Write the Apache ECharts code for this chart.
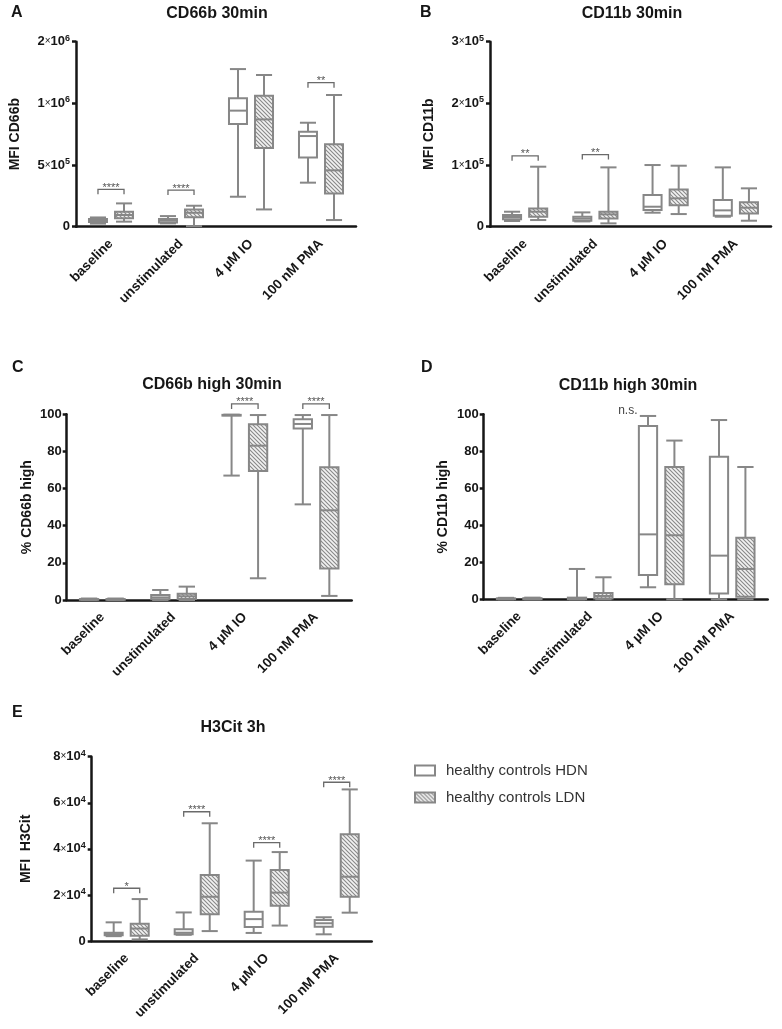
<!DOCTYPE html>
<html><head><meta charset="utf-8">
<script src="https://cdn.jsdelivr.net/npm/echarts@6/dist/echarts.min.js"></script>
<style>html,body{margin:0;padding:0;background:#fff}#c{width:782px;height:1029px}</style>
</head><body><div id="c"></div>
<script>
const categories = ['baseline', 'unstimulated', '4 µM IO', '100 nM PMA'];
const seriesNames = ['healthy controls HDN', 'healthy controls LDN'];
// each row: [min, Q1, median, Q3, max]
const cd66bHDN = [[25e3,38e3,50e3,62e3,75e3],[27e3,35e3,49e3,62e3,86e3],[243e3,832e3,941e3,1041e3,1278e3],[357e3,562e3,735e3,770e3,843e3]];
const cd66bLDN = [[41e3,68e3,95e3,122e3,189e3],[5e3,76e3,113e3,140e3,170e3],[140e3,638e3,870e3,1062e3,1230e3],[54e3,270e3,457e3,668e3,1068e3]];
const cd11bHDN = [[9.2e3,11.9e3,15.7e3,18.9e3,24.3e3],[8.6e3,9.7e3,13e3,16.2e3,23.2e3],[22.7e3,27e3,32.4e3,51.4e3,100e3],[16.2e3,17.8e3,26.5e3,43.2e3,96.2e3]];
const cd11bLDN = [[10.8e3,16.2e3,24.3e3,29.7e3,97.3e3],[5.4e3,13.5e3,20e3,24.3e3,96.2e3],[20.5e3,34.6e3,46e3,60.5e3,98.9e3],[9.7e3,21.6e3,30.8e3,39.5e3,62.2e3]];
const cd66bHighHDN = [[0,0.1,0.3,0.5,0.8],[0,0.4,1.4,2.7,5.4],[67,99.3,99.5,99.7,99.8],[51.5,92.3,94.8,97.3,99.6]];
const cd66bHighLDN = [[0,0.1,0.3,0.5,0.8],[0,0.5,2.0,3.4,7.2],[11.7,69.5,83.1,94.6,99.6],[2.2,16.9,48.3,71.5,99.6]];
const cd11bHighHDN = [[0,0.1,0.3,0.5,0.8],[0,0.1,0.4,0.9,16.4],[6.5,13.2,35.1,93.7,99.1],[0,3.2,23.6,77.1,96.9]];
const cd11bHighLDN = [[0,0.1,0.3,0.6,0.9],[0,0.5,1.8,3.4,11.9],[0,8.1,34.6,71.5,85.8],[0,1.4,16.4,33.3,71.5]];
const h3citHDN = [[2.1e3,2.5e3,3.0e3,3.6e3,8.1e3],[2.7e3,2.9e3,3.6e3,5.1e3,12.4e3],[3.5e3,6.1e3,9.5e3,12.7e3,34.9e3],[2.9e3,6.2e3,7.7e3,9.1e3,10.3e3]];
const h3citLDN = [[0.7e3,2.3e3,5.4e3,7.5e3,18.2e3],[4.3e3,11.6e3,19.2e3,28.6e3,51.1e3],[6.7e3,15.3e3,21.0e3,30.8e3,38.6e3],[12.3e3,19.2e3,27.9e3,46.3e3,65.8e3]];
// significance brackets: [category index, y value, label]
const sigA = [[0,303e3,'****'],[1,297e3,'****'],[3,1168e3,'**']];
const sigB = [[0,115e3,'**'],[1,117e3,'**']];
const sigC = [[2,105.6,'****'],[3,105.6,'****']];
const sigD = [];
const nsD = [[2,100,'n.s.']];
const sigE = [[0,22.9e3,'*'],[1,56.1e3,'****'],[2,42.7e3,'****'],[3,68.9e3,'****']];
// y tick labels
const yTicksA = ['0','5×10^5','1×10^6','2×10^6'];
const yTicksB = ['0','1×10^5','2×10^5','3×10^5'];
const yTicksC = ['0','20','40','60','80','100'];
const yTicksD = ['0','20','40','60','80','100'];
const yTicksE = ['0','2×10^4','4×10^4','6×10^4','8×10^4'];

const FONT = "'Liberation Sans', Arial, Helvetica, sans-serif";
const GRAY = '#878787';
const INK = '#161616';

function makeHatch() {
  const s = 4;
  const c = document.createElement('canvas'); c.width = s; c.height = s;
  const g = c.getContext('2d');
  g.fillStyle = '#f2f2f2'; g.fillRect(0, 0, s, s);
  g.strokeStyle = '#888888'; g.lineWidth = 1.1;
  g.beginPath();
  g.moveTo(-1, -1); g.lineTo(s + 1, s + 1);
  g.moveTo(-1, s - 1); g.lineTo(1, s + 1);
  g.moveTo(s - 1, -1); g.lineTo(s + 1, 1);
  g.stroke();
  return c;
}
const hatch = { image: makeHatch(), repeat: 'repeat' };

const panels = [
  { grid: {left: 76, top: 41.7, width: 280, height: 185}, hdn: cd66bHDN, ldn: cd66bLDN, sig: sigA, ns: [], max: 1.5e6, interval: 5e5, ticks: yTicksA, name: 'MFI CD66b', nameGap: 54, margin: 6 },
  { grid: {left: 490, top: 41.7, width: 281, height: 185}, hdn: cd11bHDN, ldn: cd11bLDN, sig: sigB, ns: [], max: 3e5, interval: 1e5, ticks: yTicksB, name: 'MFI CD11b', nameGap: 54, margin: 6 },
  { grid: {left: 66.7, top: 414.3, width: 285, height: 185.7}, hdn: cd66bHighHDN, ldn: cd66bHighLDN, sig: sigC, ns: [], max: 100, interval: 20, ticks: yTicksC, name: '% CD66b high', nameGap: 33, margin: 5 },
  { grid: {left: 483.7, top: 414.3, width: 284, height: 185}, hdn: cd11bHighHDN, ldn: cd11bHighLDN, sig: sigD, ns: nsD, max: 100, interval: 20, ticks: yTicksD, name: '% CD11b high', nameGap: 34, margin: 5 },
  { grid: {left: 91.7, top: 756.7, width: 280, height: 184.3}, hdn: h3citHDN, ldn: h3citLDN, sig: sigE, ns: [], max: 8e4, interval: 2e4, ticks: yTicksE, name: 'MFI  H3Cit', nameGap: 59, margin: 6 }
];

function richLabel(s) {
  if (s.indexOf('×') < 0) return '{m|' + s + '}';
  const mant = s.split('×')[0];
  const exp = s.split('^')[1];
  return '{m|' + mant + '}{x|×}{m|10}{e|' + exp + '}';
}

function boxRenderer(side, fill) {
  return function (params, api) {
    const cat = api.value(0);
    const band = api.size([1, 0])[0];
    const cx = api.coord([cat, 0])[0] + side * 0.186 * band;
    const w = 0.257 * band, cw = 0.23 * band;
    const y = [1, 2, 3, 4, 5].map(i => api.coord([cat, api.value(i)])[1]);
    const st = { stroke: GRAY, lineWidth: 2 };
    return { type: 'group', children: [
      { type: 'line', shape: { x1: cx, y1: y[0], x2: cx, y2: y[4] }, style: st },
      { type: 'line', shape: { x1: cx - cw / 2, y1: y[0], x2: cx + cw / 2, y2: y[0] }, style: st },
      { type: 'line', shape: { x1: cx - cw / 2, y1: y[4], x2: cx + cw / 2, y2: y[4] }, style: st },
      { type: 'rect', shape: { x: cx - w / 2, y: y[3], width: w, height: Math.max(y[1] - y[3], 0.5) }, style: { fill: fill, stroke: GRAY, lineWidth: 2 } },
      { type: 'line', shape: { x1: cx - w / 2, y1: y[2], x2: cx + w / 2, y2: y[2] }, style: st }
    ]};
  };
}

function bracketRenderer(params, api) {
  const cat = api.value(0);
  const band = api.size([1, 0])[0];
  const c = api.coord([cat, api.value(1)]);
  const x1 = c[0] - 0.186 * band, x2 = c[0] + 0.186 * band, yy = c[1];
  const st = { stroke: '#6a6a6a', lineWidth: 1.3, fill: null };
  return { type: 'group', children: [
    { type: 'polyline', shape: { points: [[x1, yy + 5], [x1, yy], [x2, yy], [x2, yy + 5]] }, style: st },
    { type: 'text', style: { x: c[0], y: yy - 7, text: api.value(2), fill: '#555', font: '11px ' + FONT, align: 'center', verticalAlign: 'top' } }
  ]};
}

function nsRenderer(params, api) {
  const cat = api.value(0);
  const band = api.size([1, 0])[0];
  const c = api.coord([cat, api.value(1)]);
  return { type: 'text', style: { x: c[0] - 0.47 * band, y: c[1] + 2, text: api.value(2), fill: '#444', font: '12px ' + FONT, align: 'center', verticalAlign: 'bottom' } };
}

const grid = [], xAxis = [], yAxis = [], series = [];
panels.forEach((p, i) => {
  grid.push(Object.assign({ containLabel: false }, p.grid));
  xAxis.push({
    type: 'category', gridIndex: i, data: categories,
    axisLine: { lineStyle: { color: INK, width: 2.5 } },
    axisTick: { alignWithLabel: true, length: 5, lineStyle: { color: INK, width: 2.5 } },
    axisLabel: { rotate: 45, interval: 0, margin: 15, fontSize: 13.5, fontWeight: 'bold', color: INK, fontFamily: FONT },
    splitLine: { show: false }
  });
  const ticks = p.ticks;
  yAxis.push({
    type: 'value', gridIndex: i, min: 0, max: p.max, interval: p.interval,
    name: p.name, nameLocation: 'middle', nameGap: p.nameGap,
    nameTextStyle: { fontSize: 14, fontWeight: 'bold', color: INK, fontFamily: FONT },
    axisLine: { show: true, lineStyle: { color: INK, width: 2.5 } },
    axisTick: { show: true, length: 4, lineStyle: { color: INK, width: 2.5 } },
    splitLine: { show: false },
    axisLabel: {
      margin: p.margin,
      formatter: (v, idx) => richLabel(ticks[idx] !== undefined ? ticks[idx] : String(v)),
      rich: {
        m: { fontSize: 13, fontWeight: 'bold', color: INK, fontFamily: FONT, lineHeight: 16 },
        x: { fontSize: 10, color: INK, fontFamily: FONT, lineHeight: 16 },
        e: { fontSize: 9, fontWeight: 'bold', color: INK, fontFamily: FONT, lineHeight: 8, verticalAlign: 'top' }
      }
    }
  });
  series.push({ type: 'custom', name: seriesNames[0], xAxisIndex: i, yAxisIndex: i, renderItem: boxRenderer(-1, '#ffffff'), encode: { x: 0, y: [1, 2, 3, 4, 5] }, data: p.hdn.map((r, k) => [k].concat(r)), itemStyle: { color: '#fff', borderColor: GRAY }, silent: true });
  series.push({ type: 'custom', name: seriesNames[1], xAxisIndex: i, yAxisIndex: i, renderItem: boxRenderer(1, hatch), encode: { x: 0, y: [1, 2, 3, 4, 5] }, data: p.ldn.map((r, k) => [k].concat(r)), itemStyle: { color: GRAY }, silent: true });
  if (p.sig.length) series.push({ type: 'custom', name: 'sig' + i, xAxisIndex: i, yAxisIndex: i, renderItem: bracketRenderer, encode: { x: 0, y: 1 }, data: p.sig, clip: false, silent: true });
  if (p.ns.length) series.push({ type: 'custom', name: 'ns' + i, xAxisIndex: i, yAxisIndex: i, renderItem: nsRenderer, encode: { x: 0, y: 1 }, data: p.ns, clip: false, silent: true });
});

const tStyle = { fontSize: 16, fontWeight: 'bold', color: INK, fontFamily: FONT };
const titles = [
  { text: 'A', left: 11, top: 5 }, { text: 'B', left: 420, top: 5 },
  { text: 'C', left: 12, top: 360 }, { text: 'D', left: 421, top: 360 },
  { text: 'E', left: 12, top: 705 },
  { text: 'CD66b 30min', left: 217, top: 6, textAlign: 'center' },
  { text: 'CD11b 30min', left: 632, top: 6, textAlign: 'center' },
  { text: 'CD66b high 30min', left: 212, top: 377, textAlign: 'center' },
  { text: 'CD11b high 30min', left: 628, top: 378, textAlign: 'center' },
  { text: 'H3Cit 3h', left: 233, top: 720, textAlign: 'center' }
].map(t => Object.assign({ textStyle: tStyle, padding: 0 }, t));

const chart = echarts.init(document.getElementById('c'), null, { renderer: 'canvas' });
chart.setOption({
  animation: false,
  backgroundColor: '#ffffff',
  textStyle: { fontFamily: FONT },
  title: titles,
  legend: {
    orient: 'vertical', left: 414, top: 763, padding: 0, itemWidth: 20, itemHeight: 10, itemGap: 12,
    textStyle: { fontSize: 15, color: '#333', fontFamily: FONT, padding: [0, 0, 0, 6] },
    selectedMode: false,
    data: [
      { name: seriesNames[0], icon: 'rect', itemStyle: { color: '#ffffff', borderColor: GRAY, borderWidth: 2 } },
      { name: seriesNames[1], icon: 'rect', itemStyle: { color: hatch, borderColor: GRAY, borderWidth: 2 } }
    ]
  },
  grid: grid, xAxis: xAxis, yAxis: yAxis, series: series
});
</script></body></html>
